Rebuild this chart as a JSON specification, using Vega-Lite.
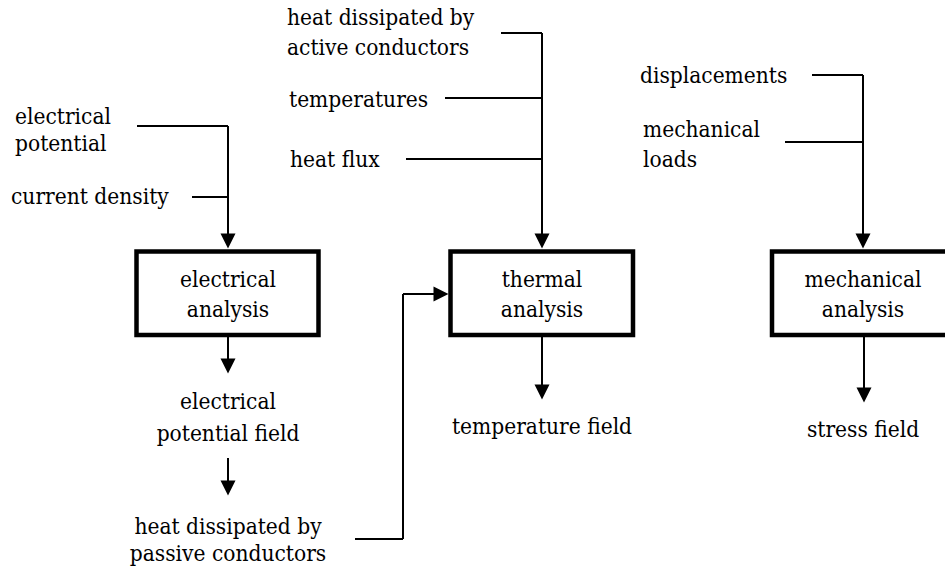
{
  "$schema": "https://vega.github.io/schema/vega-lite/v6.json",
  "width": 945,
  "height": 569,
  "padding": 0,
  "autosize": {"type": "fit", "contains": "padding"},
  "background": "white",
  "config": {"view": {"stroke": null}},
  "datasets": {
    "lines": [
      {"x": 137, "y": 126, "x2": 228, "y2": 126},
      {"x": 192, "y": 197, "x2": 228, "y2": 197},
      {"x": 228, "y": 126, "x2": 228, "y2": 240},
      {"x": 501, "y": 33, "x2": 542, "y2": 33},
      {"x": 445, "y": 98, "x2": 542, "y2": 98},
      {"x": 406, "y": 159, "x2": 542, "y2": 159},
      {"x": 542, "y": 33, "x2": 542, "y2": 240},
      {"x": 812, "y": 75, "x2": 863, "y2": 75},
      {"x": 785, "y": 142, "x2": 863, "y2": 142},
      {"x": 863, "y": 75, "x2": 863, "y2": 240},
      {"x": 355, "y": 539, "x2": 403, "y2": 539},
      {"x": 403, "y": 539, "x2": 403, "y2": 294},
      {"x": 403, "y": 294, "x2": 440, "y2": 294},
      {"x": 228, "y": 336, "x2": 228, "y2": 366},
      {"x": 228, "y": 458, "x2": 228, "y2": 488},
      {"x": 542, "y": 336, "x2": 542, "y2": 392},
      {"x": 864, "y": 336, "x2": 864, "y2": 395}
    ],
    "heads": [
      {"x": 228, "y": 241, "dir": "down"},
      {"x": 542, "y": 241, "dir": "down"},
      {"x": 863, "y": 241, "dir": "down"},
      {"x": 228, "y": 366, "dir": "down"},
      {"x": 228, "y": 488, "dir": "down"},
      {"x": 542, "y": 392, "dir": "down"},
      {"x": 864, "y": 395, "dir": "down"},
      {"x": 441, "y": 294, "dir": "right"}
    ],
    "boxes": [
      {"x": 136.5, "x2": 318.5, "y": 251.5, "y2": 335},
      {"x": 450.5, "x2": 633, "y": 251.5, "y2": 335},
      {"x": 772, "x2": 956, "y": 251.5, "y2": 335}
    ],
    "leftLabels": [
      {"x": 15, "y": 117, "label": "electrical"},
      {"x": 15, "y": 144, "label": "potential"},
      {"x": 11, "y": 197, "label": "current density"},
      {"x": 287, "y": 18, "label": "heat dissipated by"},
      {"x": 287, "y": 48, "label": "active conductors"},
      {"x": 289, "y": 100, "label": "temperatures"},
      {"x": 290, "y": 160, "label": "heat flux"},
      {"x": 640, "y": 76, "label": "displacements"},
      {"x": 643, "y": 130, "label": "mechanical"},
      {"x": 643, "y": 160, "label": "loads"}
    ],
    "centerLabels": [
      {"x": 228, "y": 280, "label": "electrical"},
      {"x": 228, "y": 310, "label": "analysis"},
      {"x": 542, "y": 280, "label": "thermal"},
      {"x": 542, "y": 310, "label": "analysis"},
      {"x": 863, "y": 280, "label": "mechanical"},
      {"x": 863, "y": 310, "label": "analysis"},
      {"x": 228, "y": 402, "label": "electrical"},
      {"x": 228, "y": 434, "label": "potential field"},
      {"x": 228, "y": 527, "label": "heat dissipated by"},
      {"x": 228, "y": 554, "label": "passive conductors"},
      {"x": 542, "y": 427, "label": "temperature field"},
      {"x": 863, "y": 430, "label": "stress field"}
    ]
  },
  "layer": [
    {
      "data": {"name": "boxes"},
      "mark": {"type": "rect", "fill": null, "stroke": "black", "strokeWidth": 4.5, "clip": true},
      "encoding": {
        "x": {"field": "x", "type": "quantitative", "scale": {"domain": [0, 945], "nice": false, "zero": false}, "axis": null},
        "x2": {"field": "x2"},
        "y": {"field": "y", "type": "quantitative", "scale": {"domain": [0, 569], "nice": false, "zero": false, "reverse": true}, "axis": null},
        "y2": {"field": "y2"}
      }
    },
    {
      "data": {"name": "lines"},
      "mark": {"type": "rule", "color": "black", "strokeWidth": 2},
      "encoding": {
        "x": {"field": "x", "type": "quantitative", "scale": {"domain": [0, 945], "nice": false, "zero": false}, "axis": null},
        "x2": {"field": "x2"},
        "y": {"field": "y", "type": "quantitative", "scale": {"domain": [0, 569], "nice": false, "zero": false, "reverse": true}, "axis": null},
        "y2": {"field": "y2"}
      }
    },
    {
      "data": {"name": "heads"},
      "mark": {"type": "point", "filled": true, "color": "black", "opacity": 1, "size": 225, "strokeWidth": 0},
      "encoding": {
        "x": {"field": "x", "type": "quantitative", "scale": {"domain": [0, 945], "nice": false, "zero": false}, "axis": null},
        "y": {"field": "y", "type": "quantitative", "scale": {"domain": [0, 569], "nice": false, "zero": false, "reverse": true}, "axis": null},
        "shape": {"field": "dir", "type": "nominal", "scale": {"domain": ["down", "right"], "range": ["M-1,-1L1,-1L0,1Z", "M-1,-1L1,0L-1,1Z"]}, "legend": null}
      }
    },
    {
      "data": {"name": "leftLabels"},
      "mark": {"type": "text", "align": "left", "baseline": "middle", "font": "DejaVu Serif Condensed", "fontSize": 22.5, "color": "black"},
      "encoding": {
        "x": {"field": "x", "type": "quantitative", "scale": {"domain": [0, 945], "nice": false, "zero": false}, "axis": null},
        "y": {"field": "y", "type": "quantitative", "scale": {"domain": [0, 569], "nice": false, "zero": false, "reverse": true}, "axis": null},
        "text": {"field": "label"}
      }
    },
    {
      "data": {"name": "centerLabels"},
      "mark": {"type": "text", "align": "center", "baseline": "middle", "font": "DejaVu Serif Condensed", "fontSize": 22.5, "color": "black"},
      "encoding": {
        "x": {"field": "x", "type": "quantitative", "scale": {"domain": [0, 945], "nice": false, "zero": false}, "axis": null},
        "y": {"field": "y", "type": "quantitative", "scale": {"domain": [0, 569], "nice": false, "zero": false, "reverse": true}, "axis": null},
        "text": {"field": "label"}
      }
    }
  ]
}
